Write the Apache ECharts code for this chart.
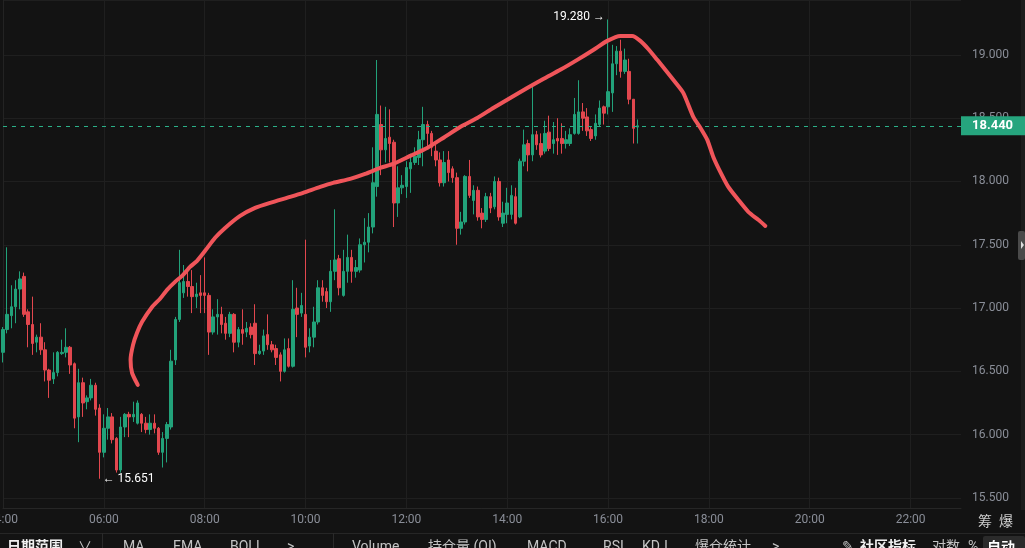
<!DOCTYPE html>
<html>
<head>
<meta charset="utf-8">
<script src="https://cdn.jsdelivr.net/npm/echarts@6/dist/echarts.min.js"></script>
<style>
  html, body { margin: 0; padding: 0; background: #131313; }
  #main { width: 1025px; height: 548px; }
</style>
</head>
<body>
<div id="main"></div>
<script>
// 5分钟K线, 从 04:00 开始
var opens = [16.65, 16.83, 16.94, 17.01, 17.15, 17.25, 16.97, 16.87, 16.73, 16.77,
  16.67, 16.51, 16.44, 16.49, 16.64, 16.65, 16.69, 16.56, 16.14, 16.41,
  16.26, 16.29, 16.39, 16.21, 15.86, 16.05, 16.14, 15.97, 15.72, 16.06,
  16.16, 16.14, 16.09, 16.16, 16.09, 16.04, 16.09, 16.05, 15.86, 15.97,
  16.06, 16.59, 16.91, 17.12, 17.21, 17.17, 17.09, 17.12, 17.12, 17.10,
  16.81, 16.93, 16.95, 16.88, 16.80, 16.95, 16.73, 16.83, 16.81, 16.85,
  16.88, 16.64, 16.66, 16.79, 16.71, 16.68, 16.63, 16.50, 16.68, 16.54,
  17.00, 16.96, 16.95, 16.70, 16.77, 16.89, 17.16, 17.13, 17.05, 17.29,
  17.39, 17.10, 17.29, 17.40, 17.29, 17.30, 17.50, 17.52, 17.64, 17.96,
  18.45, 18.25, 18.35, 18.31, 17.83, 17.95, 17.96, 18.10, 18.15, 18.19,
  18.33, 18.45, 18.38, 18.24, 18.17, 17.99, 18.17, 18.10, 18.03, 17.63,
  17.68, 18.04, 17.85, 17.93, 17.75, 17.70, 17.88, 17.80, 18.00, 17.67,
  17.74, 17.74, 17.88, 17.72, 18.16, 18.30, 18.21, 18.37, 18.30, 18.24,
  18.39, 18.30, 18.34, 18.34, 18.30, 18.30, 18.38, 18.38, 18.55, 18.51,
  18.41, 18.36, 18.45, 18.59, 18.59, 18.70, 18.93, 19.03, 18.87, 18.87,
  18.65, 18.43];
var closes = [16.83, 16.95, 17.01, 17.15, 17.23, 16.95, 16.87, 16.72, 16.77, 16.67,
  16.51, 16.43, 16.49, 16.65, 16.65, 16.69, 16.55, 16.13, 16.41, 16.25,
  16.29, 16.39, 16.20, 15.86, 16.05, 16.14, 15.96, 15.72, 16.06, 16.16,
  16.14, 16.16, 16.25, 16.09, 16.04, 16.09, 16.05, 15.86, 15.97, 16.08,
  16.58, 16.91, 17.20, 17.21, 17.17, 17.09, 17.11, 17.10, 17.10, 16.81,
  16.93, 16.95, 16.87, 16.80, 16.95, 16.73, 16.83, 16.80, 16.84, 16.79,
  16.64, 16.66, 16.78, 16.71, 16.67, 16.61, 16.50, 16.67, 16.54, 16.99,
  16.95, 17.02, 16.69, 16.77, 16.89, 17.16, 17.10, 17.05, 17.29, 17.38,
  17.16, 17.29, 17.40, 17.29, 17.32, 17.50, 17.52, 17.64, 17.99, 18.53,
  18.25, 18.34, 18.30, 17.83, 17.95, 17.97, 18.11, 18.15, 18.20, 18.33,
  18.45, 18.38, 18.27, 18.17, 17.99, 18.15, 18.07, 18.03, 17.63, 17.68,
  18.04, 17.89, 17.93, 17.72, 17.70, 17.88, 17.79, 18.00, 17.72, 17.75,
  17.83, 17.89, 17.67, 18.16, 18.29, 18.21, 18.37, 18.29, 18.21, 18.38,
  18.26, 18.33, 18.32, 18.30, 18.33, 18.37, 18.53, 18.55, 18.50, 18.40,
  18.34, 18.46, 18.58, 18.54, 18.71, 18.93, 19.03, 18.87, 18.96, 18.65,
  18.42, 18.44];
var lows = [16.57, 16.80, 16.84, 16.88, 16.99, 16.93, 16.69, 16.63, 16.65, 16.63,
  16.42, 16.29, 16.40, 16.46, 16.63, 16.61, 16.48, 16.05, 15.94, 16.14,
  16.20, 16.27, 16.15, 15.651, 15.82, 15.96, 15.93, 15.70, 15.70, 15.98,
  15.98, 16.10, 16.08, 16.02, 16.01, 16.00, 16.01, 15.84, 15.74, 15.78,
  16.04, 16.55, 16.89, 17.08, 17.09, 16.96, 17.00, 16.96, 16.96, 16.63,
  16.79, 16.79, 16.80, 16.75, 16.77, 16.65, 16.69, 16.71, 16.77, 16.76,
  16.55, 16.63, 16.63, 16.67, 16.65, 16.55, 16.42, 16.49, 16.53, 16.53,
  16.77, 16.93, 16.61, 16.65, 16.69, 16.87, 17.05, 17.00, 16.97, 17.22,
  17.10, 17.09, 17.20, 17.20, 17.24, 17.28, 17.36, 17.44, 17.59, 17.88,
  18.05, 18.15, 18.15, 17.64, 17.72, 17.90, 17.87, 17.91, 18.13, 18.13,
  18.12, 18.27, 18.20, 18.12, 17.96, 17.96, 18.00, 17.99, 17.50, 17.58,
  17.66, 17.87, 17.74, 17.69, 17.63, 17.68, 17.75, 17.78, 17.69, 17.64,
  17.67, 17.70, 17.66, 17.71, 18.12, 18.08, 18.16, 18.25, 18.19, 18.22,
  18.24, 18.22, 18.21, 18.22, 18.26, 18.28, 18.37, 18.37, 18.40, 18.36,
  18.32, 18.33, 18.43, 18.45, 18.53, 18.55, 18.84, 18.82, 18.85, 18.61,
  18.30, 18.30];
var highs = [16.85, 17.48, 17.18, 17.22, 17.29, 17.28, 16.99, 17.09, 16.79, 16.88,
  16.73, 16.52, 16.65, 16.66, 16.75, 16.84, 16.70, 16.57, 16.52, 16.45,
  16.31, 16.44, 16.41, 16.24, 16.16, 16.21, 16.17, 15.98, 16.14, 16.17,
  16.18, 16.26, 16.27, 16.17, 16.14, 16.16, 16.16, 16.06, 16.02, 16.10,
  16.67, 16.93, 17.46, 17.34, 17.30, 17.30, 17.20, 17.26, 17.40, 17.12,
  16.99, 17.07, 17.01, 16.93, 16.97, 16.96, 16.85, 16.99, 16.89, 16.88,
  17.03, 16.71, 16.83, 16.95, 16.74, 16.71, 16.65, 16.76, 16.76, 17.22,
  17.16, 17.12, 17.54, 16.84, 17.01, 17.22, 17.22, 17.16, 17.38, 17.78,
  17.42, 17.46, 17.58, 17.46, 17.38, 17.55, 17.71, 17.75, 18.27, 18.96,
  18.60, 18.59, 18.57, 18.33, 18.12, 18.05, 18.16, 18.22, 18.27, 18.40,
  18.59, 18.48, 18.40, 18.29, 18.23, 18.24, 18.24, 18.12, 18.07, 17.76,
  18.05, 18.17, 17.97, 17.96, 17.79, 17.91, 17.91, 18.04, 18.03, 17.84,
  17.95, 17.97, 17.95, 18.18, 18.41, 18.33, 18.75, 18.40, 18.38, 18.48,
  18.52, 18.47, 18.50, 18.46, 18.40, 18.42, 18.66, 18.80, 18.62, 18.58,
  18.43, 18.53, 18.64, 18.60, 19.28, 19.08, 19.07, 19.12, 19.05, 18.97,
  18.65, 18.49];

var lastPrice = 18.44;

// 手绘红线: 横坐标为K线序号, 纵坐标为价格
var curveIdx = [32.07, 30.71, 30.36, 30.95, 31.90, 33.10, 35.48, 37.38, 39.05, 40.95,
  42.62, 44.52, 46.19, 48.10, 50.48, 52.86, 56.43, 60.0, 63.57, 68.33,
  71.43, 75.48, 78.57, 82.62, 86.19, 89.76, 92.86, 96.90, 100.95, 104.76,
  108.81, 112.86, 116.67, 120.71, 124.76, 128.57, 132.62, 136.67, 140.48, 143.81,
  146.90, 149.76, 151.67, 153.57, 155.71, 157.62, 159.52, 161.90, 164.29, 166.0,
  167.62, 169.05, 170.71, 172.62, 175.0, 177.38, 179.76, 181.43];
var curveVal = [16.393, 16.488, 16.591, 16.709, 16.804, 16.891, 17.009, 17.073, 17.144, 17.207,
  17.254, 17.325, 17.373, 17.452, 17.555, 17.633, 17.728, 17.791, 17.831, 17.878,
  17.910, 17.957, 17.989, 18.021, 18.060, 18.107, 18.139, 18.202, 18.265, 18.344,
  18.431, 18.502, 18.581, 18.660, 18.739, 18.810, 18.882, 18.961, 19.039, 19.111,
  19.150, 19.150, 19.111, 19.047, 18.961, 18.882, 18.803, 18.700, 18.510, 18.423,
  18.329, 18.194, 18.076, 17.957, 17.855, 17.760, 17.697, 17.649];

// 时间轴 04:00 - 23:00
var times = [];
for (var m = 4 * 60; m <= 23 * 60; m += 5) {
  var h = Math.floor(m / 60), mm = m % 60;
  times.push((h < 10 ? '0' : '') + h + ':' + (mm < 10 ? '0' : '') + mm);
}

var kData = opens.map(function (o, i) {
  return [o, closes[i], lows[i], highs[i]];
});
var curveData = curveIdx.map(function (x, i) { return [x, curveVal[i]]; });

var green = '#22a27a';
var red = '#e2474e';
var gridColor = '#1f1f1f';
var labelColor = '#8a8e98';
var font = 'Roboto, "Noto Sans", sans-serif';

// 底部工具栏
var toolbar = [
  ['日期范围', 7, true], ['∨', 78, false],
  ['MA', 123, false], ['EMA', 173, false], ['BOLL', 230, false], ['>', 287, false],
  ['Volume', 352, false], ['持仓量 (OI)', 428, false], ['MACD', 527, false],
  ['RSI', 603, false], ['KDJ', 642, false], ['爆仓统计', 695, false], ['>', 772, false],
  ['✎', 842, false], ['社区指标', 860, true], ['对数', 932, false], ['%', 968, false]
];
var graphics = [
  { type: 'rect', shape: { x: 0, y: 533, width: 1025, height: 1 }, style: { fill: '#262626' }, silent: true },
  { type: 'rect', shape: { x: 102, y: 533, width: 1, height: 15 }, style: { fill: '#2a2a2a' }, silent: true },
  { type: 'rect', shape: { x: 333, y: 533, width: 1, height: 15 }, style: { fill: '#2a2a2a' }, silent: true },
  { type: 'rect', shape: { x: 983, y: 536, width: 42, height: 14, r: 2 }, style: { fill: '#2b2b2b' }, silent: true },
  { type: 'text', x: 987, y: 547, style: { text: '自动', fill: '#ffffff', font: 'bold 14px "Noto Sans CJK SC"', verticalAlign: 'middle' }, silent: true },
  { type: 'text', x: 978, y: 521, style: { text: '筹', fill: '#cfcfcf', font: '14px "Noto Sans CJK SC"', verticalAlign: 'middle' }, silent: true },
  { type: 'text', x: 999, y: 521, style: { text: '爆', fill: '#cfcfcf', font: '14px "Noto Sans CJK SC"', verticalAlign: 'middle' }, silent: true },
  { type: 'rect', shape: { x: 1021, y: 0, width: 4, height: 510 }, style: { fill: '#1c1c1c' }, silent: true },
  { type: 'rect', shape: { x: 1018, y: 231, width: 7, height: 29, r: 2 }, style: { fill: '#4a4a4a' }, silent: true },
  { type: 'polygon', shape: { points: [[1021, 241], [1021, 249], [1024, 245]] }, style: { fill: '#dddddd' }, silent: true }
];
toolbar.forEach(function (t) {
  graphics.push({
    type: 'text', x: t[1], y: 547, silent: true,
    style: {
      text: t[0], fill: t[2] ? '#f0f0f0' : '#c4c4c4',
      font: (t[2] ? 'bold ' : '') + '14px Roboto, "Noto Sans CJK SC"',
      verticalAlign: 'middle'
    }
  });
});

var myChart = echarts.init(document.getElementById('main'), null, { renderer: 'canvas' });
var option = {
  backgroundColor: '#131313',
  animation: false,
  grid: { left: 3, right: 64, top: 0, bottom: 40, containLabel: false, outerBoundsMode: 'none' },
  xAxis: [
    {
      type: 'category',
      data: times,
      boundaryGap: false,
      axisLine: { show: true, lineStyle: { color: '#262626' } },
      axisTick: { show: false },
      axisLabel: {
        color: labelColor, fontSize: 12, fontFamily: font, margin: 6,
        interval: function (idx) { return idx % 24 === 0; }
      },
      splitLine: {
        show: true,
        interval: function (idx) { return idx % 24 === 0; },
        lineStyle: { color: gridColor }
      }
    },
    { type: 'value', min: 0, max: times.length - 1, show: false }
  ],
  yAxis: {
    type: 'value',
    position: 'right',
    min: 15.42,
    max: 19.434,
    minInterval: 0.5,
    maxInterval: 0.5,
    splitNumber: 8,
    axisLine: { show: true, lineStyle: { color: '#232323' } },
    axisTick: { show: false },
    axisLabel: {
      color: labelColor, fontSize: 12, fontFamily: font, margin: 11,
      showMinLabel: false, showMaxLabel: false,
      formatter: function (v) { return v.toFixed(3); }
    },
    splitLine: { show: true, lineStyle: { color: gridColor } }
  },
  graphic: graphics,
  series: [
    {
      type: 'candlestick',
      data: kData,
      barWidth: 3,
      itemStyle: { color: green, color0: red, borderColor: green, borderColor0: red, borderWidth: 1 },
      markLine: {
        silent: true,
        symbol: 'none',
        data: [{ yAxis: lastPrice }],
        lineStyle: { color: '#2bb088', type: [4, 5], width: 1 },
        label: {
          position: 'end', distance: 0,
          formatter: function () { return lastPrice.toFixed(3); },
          color: '#ffffff', fontWeight: 'bold', fontSize: 13, fontFamily: font,
          backgroundColor: '#26a57e', padding: [3, 12, 3, 11]
        }
      },
      markPoint: {
        silent: true,
        symbol: 'circle',
        symbolSize: 0,
        label: { color: '#ffffff', fontSize: 12, fontFamily: font },
        data: [
          { type: 'max', valueDim: 'highest',
            label: { position: 'left', distance: 3, offset: [0, -2],
              formatter: function (p) { return p.value.toFixed(3) + ' →'; } } },
          { type: 'min', valueDim: 'lowest',
            label: { position: 'right', distance: 3,
              formatter: function (p) { return '← ' + p.value.toFixed(3); } } }
        ]
      }
    },
    {
      type: 'line',
      xAxisIndex: 1,
      data: curveData,
      showSymbol: false,
      smooth: 0.2,
      silent: true,
      z: 5,
      lineStyle: { color: '#f0555a', width: 4, cap: 'round', join: 'round' }
    }
  ]
};
myChart.setOption(option);
</script>
</body>
</html>
